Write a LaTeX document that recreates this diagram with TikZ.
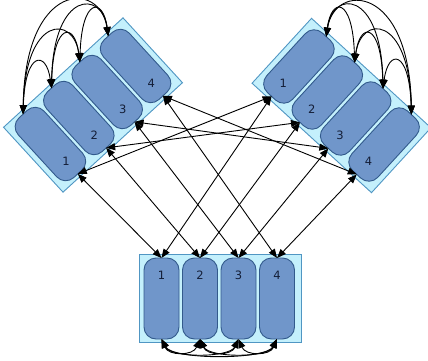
\documentclass[tikz,border=0pt]{standalone}
\usepackage{fontspec}
\setmainfont{DejaVu Sans}
\usetikzlibrary{arrows.meta,calc}
\definecolor{grpfill}{RGB}{196,240,252}
\definecolor{grpline}{RGB}{80,150,195}
\definecolor{pillfill}{RGB}{112,150,202}
\definecolor{pillline}{RGB}{50,90,140}
\definecolor{labcol}{RGB}{20,30,55}
\tikzset{
  grpbox/.style={draw=grpline, fill=grpfill, line width=0.9pt, minimum width=162pt, minimum height=88pt, inner sep=0pt, outer sep=0pt},
  pillbox/.style={draw=pillline, fill=pillfill, line width=0.9pt, rounded corners=12pt, minimum width=35pt, minimum height=81pt, inner sep=0pt, outer sep=0pt},
  lab/.style={text=labcol, font=\fontsize{11.5}{13}\selectfont, inner sep=0pt},
  link/.style={draw=black, line width=0.9pt, {Triangle[length=9pt,width=7pt]}-{Triangle[length=9pt,width=7pt]}},
}
\begin{document}
\begin{tikzpicture}[x=1pt,y=-1pt]
\useasboundingbox (0,0) rectangle (428,361);
\clip (0,0) rectangle (428,361);
% group frames
\node[grpbox, rotate=42.5] (LG) at (93,105) {};
\node[grpbox, rotate=-42.5] (RG) at (341.5,105.5) {};
\node[grpbox] (BG) at (220,298) {};
% left pills
\node[pillbox, rotate=42.5] (L1) at (50.42,144.02) {};
\node[pillbox, rotate=42.5] (L2) at (78.81,118.01) {};
\node[pillbox, rotate=42.5] (L3) at (107.19,91.99) {};
\node[pillbox, rotate=42.5] (L4) at (135.58,65.98) {};
% right pills
\node[pillbox, rotate=-42.5] (R1) at (298.92,66.49) {};
\node[pillbox, rotate=-42.5] (R2) at (327.31,92.50) {};
\node[pillbox, rotate=-42.5] (R3) at (355.69,118.51) {};
\node[pillbox, rotate=-42.5] (R4) at (384.08,144.52) {};
% bottom pills
\node[pillbox] (B1) at (161.5,298.5) {};
\node[pillbox] (B2) at (200,298.5) {};
\node[pillbox] (B3) at (238.5,298.5) {};
\node[pillbox] (B4) at (277,298.5) {};
% labels
\foreach \g in {L,R}{
  \foreach \i in {1,...,4}{
    \node[lab] (\g\i-lab) at ($(\g\i.center)!0.57!(\g\i.south)$) {\i};
  }
}
\foreach \i in {1,...,4}{
  \node[lab] (B\i-lab) at ($(B\i.center)!0.58!(B\i.north)$) {\i};
}
% links between groups
\foreach \i in {1,...,4}{
  \draw[link] (L\i.south) -- (B\i.north);
  \draw[link] (R\i.south) -- (B\i.north);
  \draw[link] (L\i.south) -- (R\i.south);
}
% left group arcs
\draw[link] (L1.north) .. controls +(2,-63.7) and +(-5,-37.7) .. (L2.north);
\draw[link] (L1.north) .. controls +(2,-99.3) and +(-6,-47.3) .. (L3.north);
\draw[link] (L1.north) .. controls +(2,-133.7) and +(-8,-55.7) .. (L4.north);
\draw[link] (L2.north) .. controls +(2,-66.3) and +(-5,-40.3) .. (L3.north);
\draw[link] (L2.north) .. controls +(2,-98) and +(-6,-46) .. (L4.north);
\draw[link] (L3.north) .. controls +(2,-65) and +(-5,-39) .. (L4.north);
% right group arcs
\draw[link] (R1.north) .. controls +(5,-39.9) and +(-2,-65.9) .. (R2.north);
\draw[link] (R1.north) .. controls +(6,-47) and +(-2,-99) .. (R3.north);
\draw[link] (R1.north) .. controls +(8,-53.9) and +(-2,-131.9) .. (R4.north);
\draw[link] (R2.north) .. controls +(5,-41.2) and +(-2,-67.2) .. (R3.north);
\draw[link] (R2.north) .. controls +(6,-48.3) and +(-2,-100.3) .. (R4.north);
\draw[link] (R3.north) .. controls +(5,-39.9) and +(-2,-65.9) .. (R4.north);
% bottom group arcs
\draw[link] (B1.south) .. controls +(7,17) and +(-7,17) .. (B2.south);
\draw[link] (B1.south) .. controls +(9,19) and +(-9,19) .. (B3.south);
\draw[link] (B1.south) .. controls +(11,21) and +(-11,21) .. (B4.south);
\draw[link] (B2.south) .. controls +(7,17) and +(-7,17) .. (B3.south);
\draw[link] (B2.south) .. controls +(9,19) and +(-9,19) .. (B4.south);
\draw[link] (B3.south) .. controls +(7,17) and +(-7,17) .. (B4.south);
\end{tikzpicture}
\end{document}
